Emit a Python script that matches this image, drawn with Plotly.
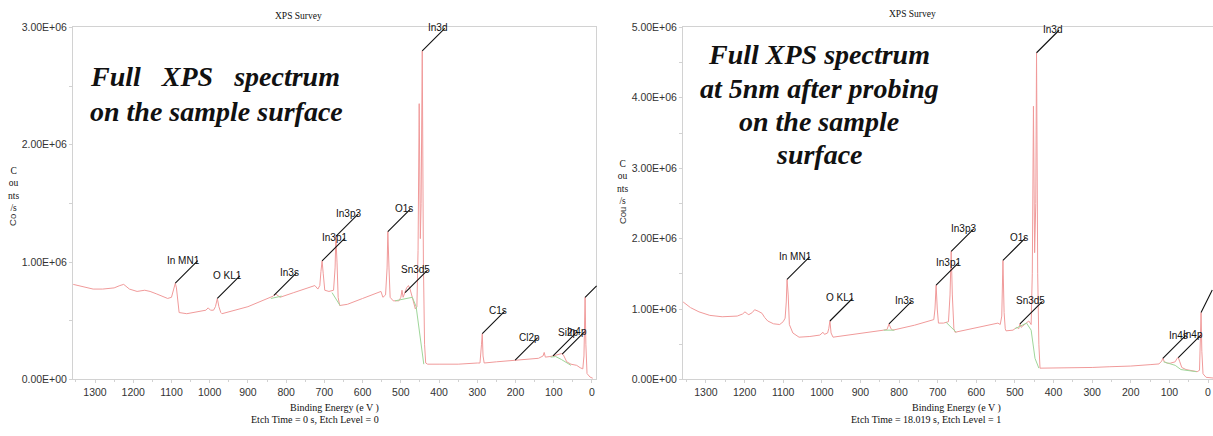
import numpy as np
import plotly.graph_objects as go

W, H = 1213, 436

# ---------------- Survey at the sample surface (etch level 0) ----------------
# binding energy (eV, descending) and intensity (millions of counts/s)
surf_energy = [1357, 1330, 1305, 1280, 1250, 1235, 1225, 1210, 1190, 1170, 1156, 1140,
               1125, 1110, 1100, 1094, 1090, 1087, 1083, 1080, 1060, 1040, 1025, 1010,
               1004, 998, 990, 985, 980, 976, 971, 968, 900, 850, 834, 828, 824, 816,
               780, 740, 725, 717, 712, 709, 706, 703, 699, 688, 676, 672, 670, 667,
               664, 660, 640, 600, 560, 552, 547, 540, 536, 534, 531, 528, 520, 505,
               500, 497, 494, 489, 485, 480, 476, 470, 462, 458, 455, 452, 449, 447,
               444, 441, 438, 435, 430, 400, 350, 300, 293, 289, 287, 285, 282, 250,
               201, 180, 154, 140, 128, 125, 122, 118, 110, 102, 90, 80, 75, 66, 55,
               40, 31, 24, 21, 19, 18, 16, 13, 5, -2]
surf_mcounts = [0.81, 0.79, 0.77, 0.77, 0.78, 0.80, 0.81, 0.77, 0.75, 0.76, 0.75, 0.73,
                0.71, 0.69, 0.70, 0.76, 0.82, 0.78, 0.62, 0.57, 0.56, 0.57, 0.58, 0.59,
                0.61, 0.59, 0.59, 0.62, 0.69, 0.62, 0.57, 0.56, 0.62, 0.69, 0.71, 0.73,
                0.72, 0.70, 0.74, 0.78, 0.80, 0.77, 0.80, 0.92, 1.01, 0.90, 0.76, 0.75,
                0.76, 0.95, 1.22, 1.00, 0.70, 0.63, 0.64, 0.69, 0.74, 0.75, 0.70, 0.72,
                0.95, 1.26, 0.95, 0.70, 0.67, 0.67, 0.70, 0.76, 0.70, 0.74, 0.78, 0.80,
                0.77, 0.70, 0.60, 0.62, 1.10, 2.35, 1.20, 1.50, 2.80, 1.00, 0.30, 0.14,
                0.13, 0.13, 0.13, 0.14, 0.14, 0.30, 0.39, 0.20, 0.14, 0.15, 0.165, 0.17,
                0.18, 0.18, 0.20, 0.23, 0.19, 0.19, 0.195, 0.20, 0.21, 0.22, 0.21, 0.15,
                0.13, 0.12, 0.10, 0.09, 0.20, 0.55, 0.70, 0.30, 0.05, 0.02, 0.01]
# fitted backgrounds under the peak regions (None separates the segments)
surf_bg_energy = [840, 812, None, 680, 659, None, 515, 470, 460, 450, 440, None,
                  108, 95, 80, 65, 55]
surf_bg_mcounts = [0.69, 0.71, None, 0.74, 0.63, None, 0.67, 0.70, 0.62, 0.35, 0.13, None,
                   0.19, 0.195, 0.17, 0.14, 0.12]
surf_peak_names = ["In MN1", "O KL1", "In3s", "In3p1", "In3p3", "O1s", "Sn3d5", "In3d",
                   "C1s", "Cl2p", "Si2p", "In4p", ""]
surf_peak_energy = [1090, 980, 832, 706, 670, 534, 489, 444, 287, 201, 102, 78, 18]

# ---------------- Survey at 5 nm after probing (etch level 1) ----------------
etch_energy = [1359, 1340, 1318, 1290, 1258, 1235, 1219, 1205, 1199, 1192, 1189, 1180,
               1174, 1165, 1155, 1148, 1140, 1125, 1109, 1100, 1095, 1092, 1090, 1087,
               1084, 1075, 1059, 1031, 1005, 997, 993, 985, 982, 979, 976, 971, 900,
               840, 831, 826, 821, 816, 760, 717, 710, 707, 704, 701, 698, 685, 672,
               668, 665, 662, 658, 655, 600, 560, 544, 538, 534, 531, 528, 525, 523,
               505, 495, 490, 487, 484, 475, 464, 458, 455, 452, 449, 446, 444, 441,
               438, 435, 400, 355, 300, 256, 200, 150, 127, 120, 117, 113, 105, 98,
               85, 80, 77, 73, 68, 57, 40, 28, 22, 20, 18, 16, 13, 5, -5, -13]
etch_mcounts = [1.10, 1.02, 0.96, 0.91, 0.89, 0.89, 0.90, 0.93, 0.96, 0.93, 0.92, 0.95,
                0.99, 0.97, 0.94, 0.88, 0.83, 0.79, 0.78, 0.82, 0.87, 1.10, 1.42, 1.20,
                0.78, 0.66, 0.60, 0.61, 0.63, 0.67, 0.64, 0.66, 0.72, 0.83, 0.66, 0.60,
                0.65, 0.70, 0.71, 0.79, 0.72, 0.70, 0.77, 0.83, 0.85, 1.00, 1.34, 1.00,
                0.80, 0.80, 0.82, 1.20, 1.82, 1.20, 0.72, 0.67, 0.73, 0.78, 0.80, 0.78,
                0.90, 1.69, 0.95, 0.72, 0.69, 0.70, 0.74, 0.72, 0.79, 0.74, 0.78, 0.83,
                0.78, 1.50, 3.88, 1.80, 2.50, 4.64, 1.50, 0.50, 0.16, 0.16, 0.16, 0.17,
                0.18, 0.19, 0.21, 0.22, 0.26, 0.30, 0.25, 0.23, 0.23, 0.25, 0.30, 0.31,
                0.25, 0.17, 0.14, 0.12, 0.11, 0.13, 0.50, 0.95, 0.40, 0.08, 0.03, 0.02,
                0.02]
etch_bg_energy = [840, 812, None, 678, 652, None, 500, 470, 458, 448, 438, None,
                  115, 100, 85, 70, 50, 30]
etch_bg_mcounts = [0.70, 0.70, None, 0.81, 0.67, None, 0.72, 0.80, 0.70, 0.30, 0.16, None,
                   0.25, 0.22, 0.20, 0.14, 0.12, 0.11]
etch_peak_names = ["In MN1", "O KL1", "In3s", "In3p1", "In3p3", "O1s", "Sn3d5", "In3d",
                   "In4s", "In4p", ""]
etch_peak_energy = [1090, 979, 826, 704, 665, 531, 487, 444, 117, 77, 18]

# axis ticks
surf_yticks = [0, 1e6, 2e6, 3e6]
surf_yticktext = ["0.00E+00", "1.00E+06", "2.00E+06", "3.00E+06"]
etch_yticks = [0, 1e6, 2e6, 3e6, 4e6, 5e6]
etch_yticktext = ["0.00E+00", "1.00E+06", "2.00E+06", "3.00E+06", "4.00E+06", "5.00E+06"]

MEGA = 1e6
LINE_RED = "#f09a9a"
BG_GREEN = "#9fd69a"
SERIF = "Liberation Serif"
SANS = "Liberation Sans"


def scaled(vals):
    return [None if v is None else v * MEGA for v in vals]


def px(x):
    return x / W


def py(y):
    return 1 - y / H


fig = go.Figure()
for E, C, bgE, bgC, xa, ya in [
    (surf_energy, surf_mcounts, surf_bg_energy, surf_bg_mcounts, "x", "y"),
    (etch_energy, etch_mcounts, etch_bg_energy, etch_bg_mcounts, "x2", "y2"),
]:
    fig.add_trace(go.Scatter(x=E, y=scaled(C), mode="lines", xaxis=xa, yaxis=ya,
                             line=dict(color=LINE_RED, width=1), hoverinfo="skip"))
    fig.add_trace(go.Scatter(x=bgE, y=scaled(bgC), mode="lines", xaxis=xa, yaxis=ya,
                             line=dict(color=BG_GREEN, width=1), connectgaps=False,
                             hoverinfo="skip"))

annotations = []


def peak_labels(names, energies, E, C, xref, yref, bare_len):
    e_inc = np.array(E[::-1], dtype=float)
    c_inc = np.array(C[::-1], dtype=float) * MEGA
    for name, e in zip(names, energies):
        c = float(np.interp(e, e_inc, c_inc))
        run = 24 if name else bare_len
        annotations.append(dict(x=e, y=c, xref=xref, yref=yref, text="", showarrow=True,
                                arrowhead=0, arrowwidth=1.1, arrowcolor="#111",
                                ax=run, ay=-run, standoff=0))
        if name:
            annotations.append(dict(x=e, y=c, xref=xref, yref=yref, text=name,
                                    showarrow=False, xanchor="right", yanchor="middle",
                                    xshift=27, yshift=23,
                                    font=dict(family=SANS, size=10, color="#111")))


peak_labels(surf_peak_names, surf_peak_energy, surf_energy, surf_mcounts, "x", "y", 13)
peak_labels(etch_peak_names, etch_peak_energy, etch_energy, etch_mcounts, "x2", "y2", 24)


def paper_text(x, y, text, size, family=SERIF, xanchor="center", angle=0, color="#111"):
    annotations.append(dict(x=px(x), y=py(y), xref="paper", yref="paper", text=text,
                            showarrow=False, xanchor=xanchor, yanchor="middle",
                            textangle=angle, font=dict(family=family, size=size, color=color)))


NB = "\u00a0"
# left panel texts
paper_text(298, 10, "XPS Survey", 9.5)
paper_text(381, 413, "Binding Energy (e V )", 10, xanchor="right")
paper_text(381, 425, "Etch Time = 0 s, Etch Level = 0", 10, xanchor="right")
paper_text(13, 189, "C<br>ou<br>nts<br>/s", 9.5)
paper_text(13, 220, "Co", 9.5, family=SANS, angle=-90, color="#333")
paper_text(88, 72, "<b><i>Full" + NB * 3 + "XPS" + NB * 3 + "spectrum</i></b>", 28,
           xanchor="left")
paper_text(88, 108, "<b><i>on the sample surface</i></b>", 28, xanchor="left")

# right panel texts
paper_text(912, 8, "XPS Survey", 9.5)
paper_text(1003, 413, "Binding Energy (e V )", 10, xanchor="right")
paper_text(1003, 425, "Etch Time = 18.019 s, Etch Level = 1", 10, xanchor="right")
paper_text(622, 182, "C<br>ou<br>nts<br>/s", 9.5)
paper_text(622, 216, "Cou", 9.5, family=SANS, angle=-90, color="#333")
for txt, yy in [("Full XPS spectrum", 50), ("at 5nm after probing", 85),
                ("on the sample", 119), ("surface", 153)]:
    paper_text(819, yy, "<b><i>" + txt + "</i></b>", 28)

AX_LINE = "#d2d2d2"
TICK_FONT = dict(family=SANS, size=10.5, color="#333")


def xaxis_cfg(domain, rng, anchor, mirror):
    return dict(domain=domain, range=rng, anchor=anchor, showgrid=False, zeroline=False,
                showline=True, linecolor=AX_LINE, linewidth=1, mirror=mirror,
                tickmode="linear", tick0=0, dtick=100, ticks="outside", ticklen=3,
                tickcolor=AX_LINE, tickfont=TICK_FONT,
                minor=dict(tickmode="linear", tick0=0, dtick=50, ticks="outside",
                           ticklen=2, tickcolor=AX_LINE))


def yaxis_cfg(rng, anchor, vals, text, mirror):
    return dict(domain=[py(384), py(22)], range=rng, anchor=anchor, showgrid=False,
                zeroline=False, showline=True, linecolor=AX_LINE, linewidth=1,
                mirror=mirror, tickmode="array", tickvals=vals, ticktext=text,
                ticks="outside", ticklen=3, tickcolor=AX_LINE, tickfont=TICK_FONT,
                minor=dict(tickmode="linear", tick0=0, dtick=5e5, ticks="outside",
                           ticklen=3, tickcolor=AX_LINE))


fig.update_layout(
    width=W, height=H, autosize=False,
    margin=dict(l=0, r=0, t=0, b=0),
    paper_bgcolor="white", plot_bgcolor="white",
    showlegend=False,
    font=dict(family=SANS),
    xaxis=xaxis_cfg([px(73), px(596)], [1357.6, -10.5], "y", True),
    yaxis=yaxis_cfg([0, 3e6], "x", surf_yticks, surf_yticktext, True),
    xaxis2=xaxis_cfg([px(683), 1.0], [1359.4, -12.9], "y2", True),
    yaxis2=yaxis_cfg([0, 5e6], "x2", etch_yticks, etch_yticktext, False),
    annotations=annotations,
)

fig.write_html("out.html")
